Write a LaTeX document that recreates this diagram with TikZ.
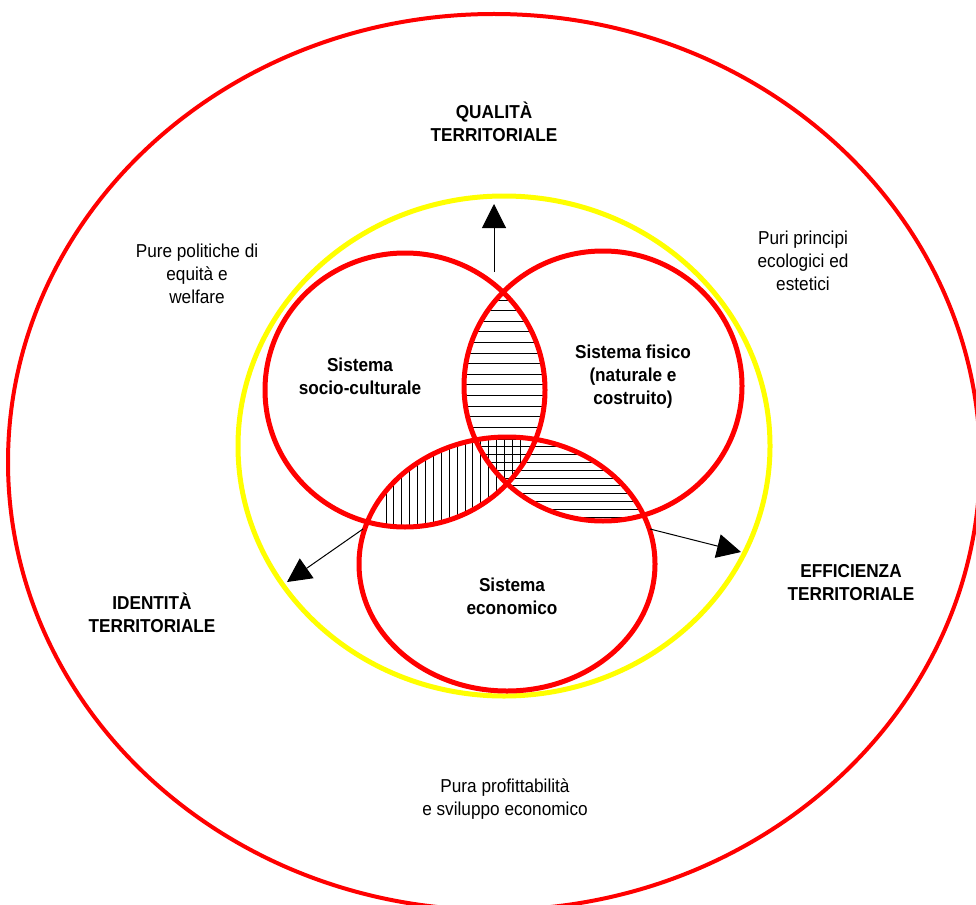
\documentclass[tikz,border=0pt]{standalone}
\usepackage{fontspec}
\setmainfont{Liberation Sans}[FakeStretch=0.92]
\usetikzlibrary{arrows.meta}
\definecolor{vred}{RGB}{255,0,0}
\definecolor{vyellow}{RGB}{255,255,0}
\begin{document}
\begin{tikzpicture}[x=1pt,y=-1pt,
  lbl/.style={align=center,font=\fontsize{18.7}{23}\selectfont,inner sep=0pt},
  blbl/.style={align=center,font=\fontsize{18.7}{23}\selectfont\bfseries,inner sep=0pt},
  ring/.style={draw=vred,line width=5pt},
  conn/.style={line width=1pt,-{Triangle[length=24pt,width=24pt]}},
  hatch/.style={line width=1pt}]
\useasboundingbox (0,0) rectangle (976,904);
\clip (0,0) rectangle (976,904);
% hatching
\begin{scope}
  \clip (405,390) ellipse [x radius=140, y radius=137];
  \clip (603,386) ellipse [x radius=139, y radius=135];
  \foreach \k in {0,...,12} \draw[hatch] (440,300+10.6*\k) -- (560,300+10.6*\k);
\end{scope}
\begin{scope}
  \clip (603,386) ellipse [x radius=139, y radius=135];
  \clip (507,564) ellipse [x radius=148, y radius=127];
  \foreach \k in {0,...,11} \draw[hatch] (460,439+7.8*\k) -- (660,439+7.8*\k);
\end{scope}
\begin{scope}
  \clip (405,390) ellipse [x radius=140, y radius=137];
  \clip (507,564) ellipse [x radius=148, y radius=127];
  \foreach \k in {0,...,17} \draw[hatch] (386+7.9*\k,420) -- (386+7.9*\k,540);
\end{scope}
% ellipses
\draw[draw=vred,line width=4pt] (494,462) ellipse [x radius=486, y radius=448];
\draw[draw=vyellow,line width=5pt] (504,446) ellipse [x radius=266, y radius=250];
\draw[ring] (405,390) ellipse [x radius=140, y radius=137];
\draw[ring] (603,386) ellipse [x radius=139, y radius=135];
\draw[ring] (507,564) ellipse [x radius=148, y radius=127];
% arrows
\coordinate (upS) at (494,272);
\coordinate (upE) at (494,204);
\coordinate (lfS) at (363,529);
\coordinate (lfE) at (287,582);
\coordinate (rtS) at (650,529);
\coordinate (rtE) at (741,552);
\draw[conn] (upS) -- (upE);
\draw[conn] (lfS) -- (lfE);
\draw[conn] (rtS) -- (rtE);
% labels
\node[blbl] (qual) at (494,122) {QUALITÀ\\TERRITORIALE};
\node[blbl] (iden) at (152,613) {IDENTITÀ\\TERRITORIALE};
\node[blbl] (effi) at (851,583) {EFFICIENZA\\TERRITORIALE};
\node[lbl] (equi) at (197,274) {Pure politiche di\\equità e\\welfare};
\node[lbl] (ecol) at (803,261) {Puri principi\\ecologici ed\\estetici};
\node[lbl] (prof) at (505,799) {Pura profittabilità\\e sviluppo economico};
\node[blbl] (soc) at (360,376) {Sistema\\socio-culturale};
\node[blbl] (fis) at (633,377) {Sistema fisico\\(naturale e\\costruito)};
\node[blbl] (eco) at (512,596) {Sistema\\economico};
\end{tikzpicture}
\end{document}
